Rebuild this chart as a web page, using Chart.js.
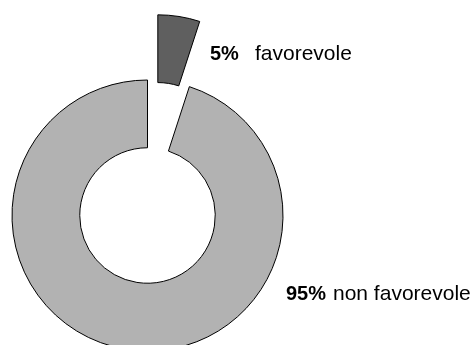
<!DOCTYPE html>
<html>
<head>
<meta charset="utf-8">
<script src="https://cdn.jsdelivr.net/npm/chart.js@4/dist/chart.umd.min.js"></script>
<style>
html,body{margin:0;padding:0;background:#fff;}
#wrap{width:474px;height:345px;position:relative;}
</style>
</head>
<body>
<div id="wrap"><canvas id="c" width="474" height="345"></canvas></div>
<script>
// Data
const categories = ['favorevole', 'non favorevole'];
const values = [5, 95];
const colors = ['#5f5f5f', '#b2b2b2'];
const explode = [66, 0];   // px distance each slice is pulled out

// Pull slices outward along their mid-angle without changing their radii
const explodePlugin = {
  id: 'explode',
  afterDatasetUpdate(chart, args) {
    args.meta.data.forEach((arc, i) => {
      const d = explode[i] || 0;
      if (!d) return;
      const mid = (arc.startAngle + arc.endAngle) / 2;
      arc.x += Math.cos(mid) * d;
      arc.y += Math.sin(mid) * d;
    });
  }
};

// Labels: bold percentage followed by the category name
const labelPos = [
  {px: 210, nx: 255, y: 60},
  {px: 286, nx: 333, y: 300}
];
const labelPlugin = {
  id: 'sliceLabels',
  afterDraw(chart) {
    const ctx = chart.ctx;
    const total = values.reduce((a, b) => a + b, 0);
    ctx.save();
    ctx.fillStyle = '#000';
    ctx.textBaseline = 'alphabetic';
    ctx.textAlign = 'left';
    values.forEach((v, i) => {
      const p = labelPos[i];
      ctx.font = 'bold 20px "Liberation Sans", Arial, sans-serif';
      ctx.fillText(Math.round(v / total * 100) + '%', p.px, p.y);
      ctx.font = '21px "Liberation Sans", Arial, sans-serif';
      ctx.fillText(categories[i], p.nx, p.y);
    });
    ctx.restore();
  }
};

new Chart(document.getElementById('c'), {
  type: 'doughnut',
  data: {
    labels: categories,
    datasets: [{
      data: values,
      backgroundColor: colors,
      borderColor: '#000',
      borderWidth: 1,
      clip: false
    }]
  },
  options: {
    responsive: false,
    animation: false,
    events: [],
    radius: 135.5,
    cutout: '50%',
    layout: {padding: {left: 0, right: 179, top: 86, bottom: 0}},
    plugins: {legend: {display: false}, tooltip: {enabled: false}}
  },
  plugins: [explodePlugin, labelPlugin]
});
</script>
</body>
</html>
